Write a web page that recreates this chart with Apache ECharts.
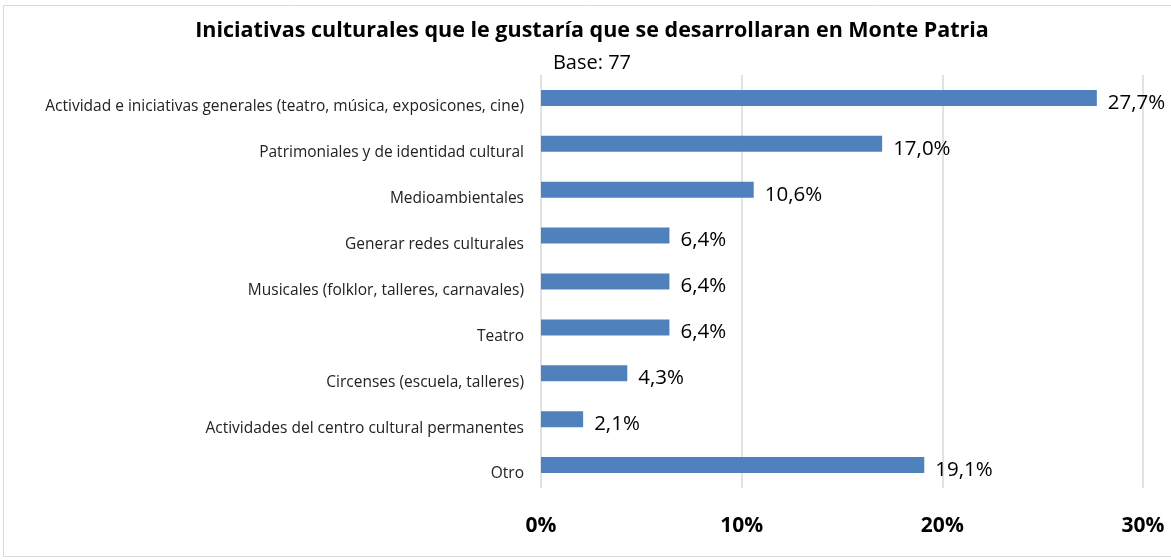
<!DOCTYPE html>
<html>
<head>
<meta charset="utf-8">
<script src="https://cdn.jsdelivr.net/npm/echarts@6/dist/echarts.min.js"></script>
<style>
  html, body { margin: 0; padding: 0; background: #fff; }
  #chart { width: 1171px; height: 560px; }
</style>
</head>
<body>
<div id="chart"></div>
<script>
// categorias y porcentajes
const categorias = [
  'Actividad e iniciativas generales (teatro, música, exposicones, cine)',
  'Patrimoniales y de identidad cultural',
  'Medioambientales',
  'Generar redes culturales',
  'Musicales (folklor, talleres, carnavales)',
  'Teatro',
  'Circenses (escuela, talleres)',
  'Actividades del centro cultural permanentes',
  'Otro'
];
const porcentajes = [27.7, 17.0, 10.6, 6.4, 6.4, 6.4, 4.3, 2.1, 19.1];

const myChart = echarts.init(document.getElementById('chart'));
const fuente = 'Open Sans, Noto Sans, Liberation Sans, sans-serif';

const option = {
  animation: false,
  textStyle: { fontFamily: fuente },
  graphic: [
    {
      type: 'rect',
      shape: { x: 3.5, y: 5.5, width: 1180, height: 551 },
      style: { fill: 'none', stroke: '#d9d9d9', lineWidth: 1 },
      silent: true
    }
  ],
  title: {
    text: 'Iniciativas culturales que le gustaría que se desarrollaran en Monte Patria',
    subtext: 'Base: 77',
    left: 587,
    textAlign: 'center',
    top: 15,
    itemGap: 11,
    textStyle: { fontSize: 21.5, fontWeight: 'bold', color: '#000', fontFamily: fuente },
    subtextStyle: { fontSize: 20, color: '#000', fontFamily: fuente }
  },
  grid: { left: 541, right: 28, top: 75, bottom: 72 },
  xAxis: {
    type: 'value',
    min: 0,
    max: 30,
    interval: 10,
    axisLine: { show: false },
    axisTick: { show: false },
    axisLabel: {
      formatter: '{value}%',
      fontSize: 21,
      fontWeight: 'bold',
      color: '#000',
      margin: 28
    },
    splitLine: { lineStyle: { color: '#d9d9d9', width: 1.5 } }
  },
  yAxis: {
    type: 'category',
    inverse: true,
    data: categorias,
    axisLine: { show: false },
    axisTick: { show: false },
    axisLabel: { fontSize: 15.5, color: '#222', margin: 17, verticalAlign: 'top', padding: [1, 0, 0, 0] }
  },
  series: [
    {
      type: 'bar',
      data: porcentajes,
      barWidth: 16,
      itemStyle: { color: '#4f81bd' },
      label: {
        show: true,
        position: 'right',
        distance: 11,
        offset: [0, 5],
        fontSize: 20.5,
        color: '#000',
        formatter: function (p) {
          return p.value.toFixed(1).replace('.', ',') + '%';
        }
      }
    }
  ]
};
myChart.setOption(option);
</script>
</body>
</html>
